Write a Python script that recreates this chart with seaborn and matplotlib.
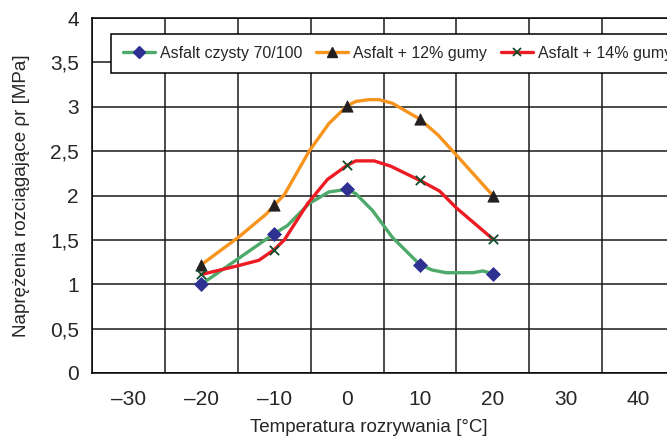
import numpy as np
import pandas as pd
import matplotlib
matplotlib.use("Agg")
import matplotlib.pyplot as plt
from matplotlib.lines import Line2D
from matplotlib.ticker import MultipleLocator
import seaborn as sns

# Punkty pomiarowe
temperatury = [-20, -10, 0, 10, 20]
asfalt_czysty = [1.00, 1.57, 2.07, 1.22, 1.12]
gumy_12 = [1.22, 1.89, 3.01, 2.86, 2.00]
gumy_14 = [1.11, 1.39, 2.34, 2.17, 1.51]

# Przebieg linii wygładzonych
czysty_lin_x = [-20, -14.9, -10, -8.2, -5.2, -2.5, 0, 1.2, 3.5, 6.2, 10, 11.7, 13.6, 17.3, 18.6, 20]
czysty_lin_y = [1.00, 1.29, 1.57, 1.66, 1.91, 2.04, 2.07, 2.02, 1.83, 1.53, 1.22, 1.16, 1.13, 1.13, 1.15, 1.12]
g12_lin_x = [-20, -14.9, -11.1, -10, -8.6, -5.2, -2.5, 0, 1.2, 3.0, 4.4, 6.2, 10, 12.5, 14.95, 20]
g12_lin_y = [1.22, 1.53, 1.79, 1.89, 2.01, 2.50, 2.81, 3.01, 3.06, 3.08, 3.08, 3.04, 2.86, 2.68, 2.46, 2.00]
g14_lin_x = [-20, -14.9, -12.1, -10, -8.6, -5.4, -2.7, 0, 1.2, 3.7, 6.0, 10, 12.7, 15.0, 20]
g14_lin_y = [1.11, 1.21, 1.27, 1.39, 1.50, 1.91, 2.18, 2.34, 2.39, 2.39, 2.33, 2.17, 2.05, 1.86, 1.51]

kategorie = [-30, -20, -10, 0, 10, 20, 30, 40]
kategorie_opisy = ["\u201330", "\u201320", "\u201310", "0", "10", "20", "30", "40"]
y_ticks = [0, 0.5, 1, 1.5, 2, 2.5, 3, 3.5, 4]
y_opisy = ["0", "0,5", "1", "1,5", "2", "2,5", "3", "3,5", "4"]

nazwy = ["Asfalt czysty 70/100", "Asfalt + 12% gumy", "Asfalt + 14% gumy"]

sns.set_style("white")
plt.rcParams["font.family"] = ["Liberation Sans", "DejaVu Sans"]

# Kolory
zielony = "#4DAA6A"
pomaranczowy = "#F7941D"
czerwony = "#ED1C24"
granat = "#2E3192"
czarny = "#231F20"
ciemnozielony = "#0F4D2A"

fig = plt.figure(figsize=(6.67, 4.38), dpi=100)
ax = fig.add_axes([92 / 667, 65 / 438, 583 / 667, 355 / 438])

# Linie
sns.lineplot(x=czysty_lin_x, y=czysty_lin_y, color=zielony, lw=2.4, ax=ax,
             estimator=None, sort=False, zorder=3)
sns.lineplot(x=g12_lin_x, y=g12_lin_y, color=pomaranczowy, lw=2.4, ax=ax,
             estimator=None, sort=False, zorder=3)
sns.lineplot(x=g14_lin_x, y=g14_lin_y, color=czerwony, lw=2.4, ax=ax,
             estimator=None, sort=False, zorder=3)

# Znaczniki
sns.scatterplot(x=temperatury, y=asfalt_czysty, marker="D", s=50, color=granat,
                edgecolor=granat, ax=ax, zorder=4)
sns.scatterplot(x=temperatury, y=gumy_12, marker="^", s=65, color=czarny,
                edgecolor=czarny, ax=ax, zorder=4)
sns.scatterplot(x=temperatury, y=gumy_14, marker="x", s=45, color=ciemnozielony,
                linewidth=1.3, ax=ax, zorder=4)

# Osie
ax.set_xlim(-35, 45)
ax.set_ylim(0, 4)
ax.set_xticks(np.arange(-35, 46, 10))
ax.set_xticklabels([])
ax.set_xticks(kategorie, minor=True)
ax.set_xticklabels(kategorie_opisy, minor=True)
ax.tick_params(axis="x", which="major", direction="inout", length=7, width=1,
               color="black")
ax.tick_params(axis="x", which="minor", length=0, labelsize=15, pad=12)

ax.set_yticks(y_ticks)
ax.set_yticklabels(y_opisy)
ax.yaxis.set_minor_locator(MultipleLocator(0.1))
ax.tick_params(axis="y", which="major", direction="inout", length=7, width=1,
               color="black", labelsize=15, pad=6)
ax.tick_params(axis="y", which="minor", direction="out", length=3, width=0.8,
               color="black")

ax.grid(True, which="major", color="#1a1a1a", lw=1.1, zorder=0)
ax.set_axisbelow(True)
for s in ["left", "bottom", "top"]:
    ax.spines[s].set_color("black")
    ax.spines[s].set_linewidth(1.1)
ax.spines["right"].set_visible(False)

ax.set_xlabel("Temperatura rozrywania [°C]", fontsize=13.5)
ax.xaxis.set_label_coords(0.475, -0.13)
ax.set_ylabel("Naprężenia rozciągające ρr [MPa]", fontsize=13.5, labelpad=14)

# Legenda
uchwyty = [
    Line2D([], [], color=zielony, lw=2.4, marker="D", ms=6, mfc=granat, mec=granat),
    Line2D([], [], color=pomaranczowy, lw=2.4, marker="^", ms=7, mfc=czarny, mec=czarny),
    Line2D([], [], color=czerwony, lw=2.4, marker="x", ms=6, mec=ciemnozielony, mew=1.3),
]
leg = fig.legend(uchwyty, nazwy, loc="upper left",
                 bbox_to_anchor=(111 / 667, 1 - 34 / 438), ncol=3,
                 frameon=True, fancybox=False, edgecolor="black", framealpha=1,
                 fontsize=11.5, handlelength=2.0, handletextpad=0.3,
                 columnspacing=0.9, borderpad=0.75, borderaxespad=0)
leg.get_frame().set_linewidth(1.1)

fig.savefig("out.png", dpi=100)
